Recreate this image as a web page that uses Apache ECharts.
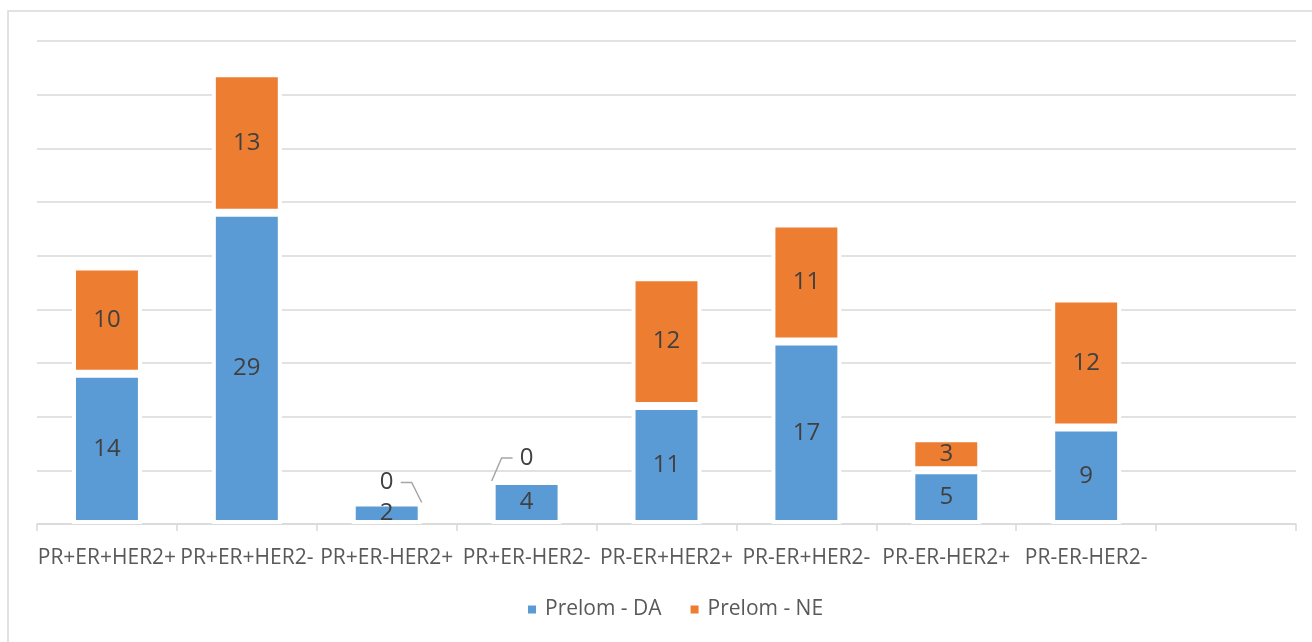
<!DOCTYPE html>
<html>
<head>
<meta charset="utf-8">
<title>Prelom po podtipu</title>
<script src="https://cdn.jsdelivr.net/npm/echarts@6/dist/echarts.min.js"></script>
<style>
  html, body { margin: 0; padding: 0; background: #ffffff; }
  #chart { width: 1312px; height: 642px; }
</style>
</head>
<body>
<div id="chart"></div>
<script>
// Receptor subtypes (the axis keeps one extra empty slot at the end)
const categories = ['PR+ER+HER2+', 'PR+ER+HER2-', 'PR+ER-HER2+', 'PR+ER-HER2-',
                    'PR-ER+HER2+', 'PR-ER+HER2-', 'PR-ER-HER2+', 'PR-ER-HER2-'];
const prelomDA = [14, 29, 2, 4, 11, 17, 5, 9];
const prelomNE = [10, 13, 0, 0, 12, 11, 3, 12];
const seriesNames = ['Prelom - DA', 'Prelom - NE'];
const yMax = 45;
const yStep = 5;

// Callouts for zero-valued segments: which side the leader runs to and how high the label sits
const zeroCallout = { 'PR+ER-HER2+': { dir: 1, rise: 20 }, 'PR+ER-HER2-': { dir: -1, rise: 23 } };

const FONT = '"Open Sans", "Noto Sans", sans-serif';
const BLUE = '#5B9BD5';
const ORANGE = '#ED7D31';
const GRID_GRAY = '#d9d9d9';

const axisCategories = categories.concat(['']);

const chart = echarts.init(document.getElementById('chart'), null, { renderer: 'canvas' });

const barLabel = {
  show: true,
  position: 'inside',
  color: '#404040',
  fontSize: 24,
  fontFamily: FONT,
  formatter: p => (p.value === 0 ? '' : String(p.value))
};

chart.setOption({
  animation: false,
  backgroundColor: '#ffffff',
  textStyle: { fontFamily: FONT },
  graphic: [{
    type: 'rect',
    shape: { x: 8, y: 11, width: 1330, height: 660 },
    style: { fill: 'none', stroke: GRID_GRAY, lineWidth: 1.5 },
    silent: true,
    z: -10
  }],
  grid: { left: 37, right: 16, top: 41, bottom: 118, containLabel: false, outerBoundsMode: 'none' },
  legend: {
    data: seriesNames,
    bottom: 17,
    left: 521,
    icon: 'rect',
    itemWidth: 10,
    itemHeight: 10,
    itemGap: 27,
    textStyle: { color: '#595959', fontSize: 21, fontFamily: FONT, padding: [0, 0, 0, 3] }
  },
  xAxis: {
    type: 'category',
    data: axisCategories,
    boundaryGap: true,
    axisLine: { lineStyle: { color: GRID_GRAY, width: 1.5 } },
    axisTick: { show: true, length: 7, alignWithLabel: false, lineStyle: { color: GRID_GRAY, width: 1.5 } },
    axisLabel: { color: '#595959', fontSize: 21, fontFamily: FONT, margin: 24, interval: 0 },
    splitLine: { show: false }
  },
  yAxis: {
    type: 'value',
    min: 0,
    max: yMax,
    interval: yStep,
    axisLine: { show: false },
    axisTick: { show: false },
    axisLabel: { show: false },
    splitLine: { lineStyle: { color: GRID_GRAY, width: 1.5 } }
  },
  series: [
    {
      name: seriesNames[0],
      type: 'bar',
      stack: 'total',
      barWidth: '50%',
      data: prelomDA,
      itemStyle: { color: BLUE, borderColor: '#ffffff', borderWidth: 4 },
      label: barLabel
    },
    {
      name: seriesNames[1],
      type: 'bar',
      stack: 'total',
      barWidth: '50%',
      data: prelomNE,
      itemStyle: { color: ORANGE, borderColor: '#ffffff', borderWidth: 4 },
      label: barLabel
    },
    {
      // "0" labels with leader lines for empty segments
      type: 'custom',
      silent: true,
      z: 5,
      encode: { x: 0, y: 1 },
      data: categories.map((c, i) => [i, prelomDA[i], prelomNE[i]]),
      renderItem(params, api) {
        const ne = api.value(2);
        const cfg = zeroCallout[categories[params.dataIndex]];
        if (ne !== 0 || !cfg) return null;
        const idx = api.value(0);
        const top = api.coord([idx, api.value(1) + ne]);
        const half = api.size([1, 0])[0] * 0.25;
        const cx = top[0];
        const ly = top[1] - cfg.rise;
        return {
          type: 'group',
          children: [
            {
              type: 'polyline',
              shape: { points: [[cx + cfg.dir * 14, ly], [cx + cfg.dir * 25, ly], [cx + cfg.dir * half, top[1]]] },
              style: { stroke: '#a6a6a6', lineWidth: 1.5, fill: 'none' }
            },
            {
              type: 'text',
              style: {
                text: String(ne), x: cx, y: ly, align: 'center', verticalAlign: 'middle',
                fontSize: 24, fontFamily: FONT, fill: '#404040'
              }
            }
          ]
        };
      }
    }
  ]
});
</script>
</body>
</html>
